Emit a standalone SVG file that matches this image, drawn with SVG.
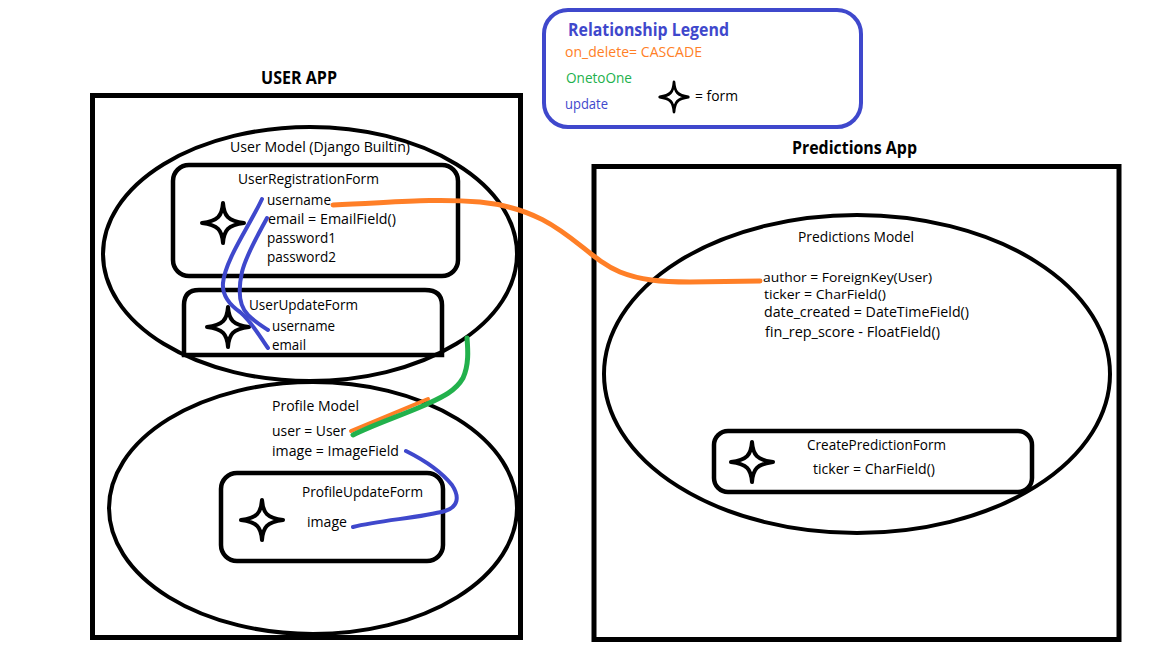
<svg xmlns="http://www.w3.org/2000/svg" xmlns:xlink="http://www.w3.org/1999/xlink" width="1152" height="648" viewBox="0 0 1152 648">
<style>
text{font-family:"Open Sans","Noto Sans","Liberation Sans",sans-serif;font-size:14px;fill:#000}
.t{font-weight:bold;font-size:17px}
.sm{font-size:13px}
.box{fill:none;stroke:#000;stroke-width:5}
.ell{fill:none;stroke:#000;stroke-width:4}
.form{fill:none;stroke:#000;stroke-width:4.5}
.blue{fill:none;stroke:#3f48cc;stroke-width:4;stroke-linecap:round;stroke-linejoin:round}
.orange{fill:none;stroke:#ff7f27;stroke-width:5;stroke-linecap:round}
.green{fill:none;stroke:#22b14c;stroke-width:5;stroke-linecap:round}
</style>
<defs>
<path id="star" d="M0,-20 C1,-7 5,-2 21,0 C5,2 1,7 0,20 C-1,7 -5,2 -21,0 C-5,-2 -1,-7 0,-20 Z" fill="#fff" stroke="#000" stroke-width="4" stroke-linejoin="round"/>
</defs>
<rect width="1152" height="648" fill="#fff"/>

<g id="legend">
<rect x="544" y="10" width="317" height="117" rx="24" fill="#fff" stroke="#3f48cc" stroke-width="4"/>
<text x="568" y="36" class="t" style="fill:#3f48cc" textLength="161" lengthAdjust="spacingAndGlyphs">Relationship Legend</text>
<text x="565" y="57" style="fill:#ff7f27" textLength="137" lengthAdjust="spacingAndGlyphs">on_delete= CASCADE</text>
<text x="566" y="83" style="fill:#22b14c" textLength="66" lengthAdjust="spacingAndGlyphs">OnetoOne</text>
<text x="565" y="109" style="fill:#3f48cc" textLength="43" lengthAdjust="spacingAndGlyphs">update</text>
<use xlink:href="#star" href="#star" transform="translate(674,97) scale(0.68,0.75)" style="stroke-width:9"/>
<text x="695" y="101" textLength="43" lengthAdjust="spacingAndGlyphs">= form</text>
</g>

<g id="user-app">
<text x="261" y="84" class="t" textLength="76" lengthAdjust="spacingAndGlyphs">USER APP</text>
<rect x="92.5" y="95.5" width="428" height="542" class="box"/>
</g>

<g id="predictions-app">
<text x="792" y="154" class="t" textLength="125" lengthAdjust="spacingAndGlyphs">Predictions App</text>
<rect x="594" y="166.5" width="525" height="473" class="box"/>
</g>

<g id="user-model">
<ellipse cx="310" cy="254" rx="207" ry="127" class="ell"/>
<text x="230" y="152" textLength="180" lengthAdjust="spacingAndGlyphs">User Model (Django Builtin)</text>
</g>

<g id="user-registration-form">
<rect x="173" y="165" width="285" height="111" rx="16" class="form"/>
<use xlink:href="#star" href="#star" x="223" y="223"/>
<text x="238" y="184" textLength="141" lengthAdjust="spacingAndGlyphs">UserRegistrationForm</text>
<text x="267" y="205" textLength="64" lengthAdjust="spacingAndGlyphs">username</text>
<text x="268" y="224" textLength="128" lengthAdjust="spacingAndGlyphs">email = EmailField()</text>
<text x="267" y="243" textLength="69" lengthAdjust="spacingAndGlyphs">password1</text>
<text x="267" y="262" textLength="69" lengthAdjust="spacingAndGlyphs">password2</text>
</g>

<g id="user-update-form">
<path d="M199,290 L425,290 Q442,290 442,305 L442,355 L184,355 L184,305 Q184,290 199,290 Z" class="form"/>
<use xlink:href="#star" href="#star" x="228" y="327"/>
<text x="249" y="310" textLength="109" lengthAdjust="spacingAndGlyphs">UserUpdateForm</text>
<text x="272" y="331" textLength="63" lengthAdjust="spacingAndGlyphs">username</text>
<text x="272" y="350" textLength="34" lengthAdjust="spacingAndGlyphs">email</text>
</g>

<g id="profile-model">
<ellipse cx="313" cy="508" rx="204" ry="126" class="ell"/>
<text x="272" y="411" textLength="87" lengthAdjust="spacingAndGlyphs">Profile Model</text>
<text x="272" y="436" textLength="74" lengthAdjust="spacingAndGlyphs">user = User</text>
<text x="272" y="456" textLength="127" lengthAdjust="spacingAndGlyphs">image = ImageField</text>
</g>

<g id="profile-update-form">
<rect x="221" y="473" width="222" height="88" rx="16" class="form"/>
<use xlink:href="#star" href="#star" x="262" y="520"/>
<text x="302" y="497" textLength="121" lengthAdjust="spacingAndGlyphs">ProfileUpdateForm</text>
<text x="307" y="527" textLength="40" lengthAdjust="spacingAndGlyphs">image</text>
</g>

<g id="predictions-model">
<ellipse cx="857" cy="374" rx="253" ry="159" class="ell"/>
<text x="798" y="242" textLength="116" lengthAdjust="spacingAndGlyphs">Predictions Model</text>
<text x="763" y="282" class="sm" textLength="169" lengthAdjust="spacingAndGlyphs">author = ForeignKey(User)</text>
<text x="764" y="299" class="sm" textLength="122" lengthAdjust="spacingAndGlyphs">ticker = CharField()</text>
<text x="764" y="317" textLength="205" lengthAdjust="spacingAndGlyphs">date_created = DateTimeField()</text>
<text x="765" y="337" textLength="175" lengthAdjust="spacingAndGlyphs">fin_rep_score - FloatField()</text>
</g>

<g id="create-prediction-form">
<rect x="714" y="431" width="318" height="61" rx="14" class="form"/>
<use xlink:href="#star" href="#star" x="752" y="462"/>
<text x="807" y="450" textLength="139" lengthAdjust="spacingAndGlyphs">CreatePredictionForm</text>
<text x="813" y="474" textLength="122" lengthAdjust="spacingAndGlyphs">ticker = CharField()</text>
</g>

<g id="connectors">
<path class="blue" d="M262,199 C250,225 225,260 223,283 C222,295 230,305 240,312 C252,322 262,340 268,348"/>
<path class="blue" d="M267,218 C258,235 246,255 242,272 C238,290 238,305 248,315 C255,322 262,326 268,330"/>
<path class="orange" d="M333,205 C390,203 430,198 480,202 C560,210 580,255 620,272 C640,280 660,282 690,282 L760,281"/>
<path d="M351,431 L428,399" fill="none" stroke="#ff7f27" stroke-width="4" stroke-linecap="round"/>
<path class="green" d="M467,338 C468,350 469,365 463,378 C455,392 440,398 425,405 C400,416 375,424 353,435"/>
<path class="blue" d="M406,451 C420,458 440,470 452,485 C460,497 458,507 445,511 C420,518 380,520 353,527"/>
</g>
</svg>
